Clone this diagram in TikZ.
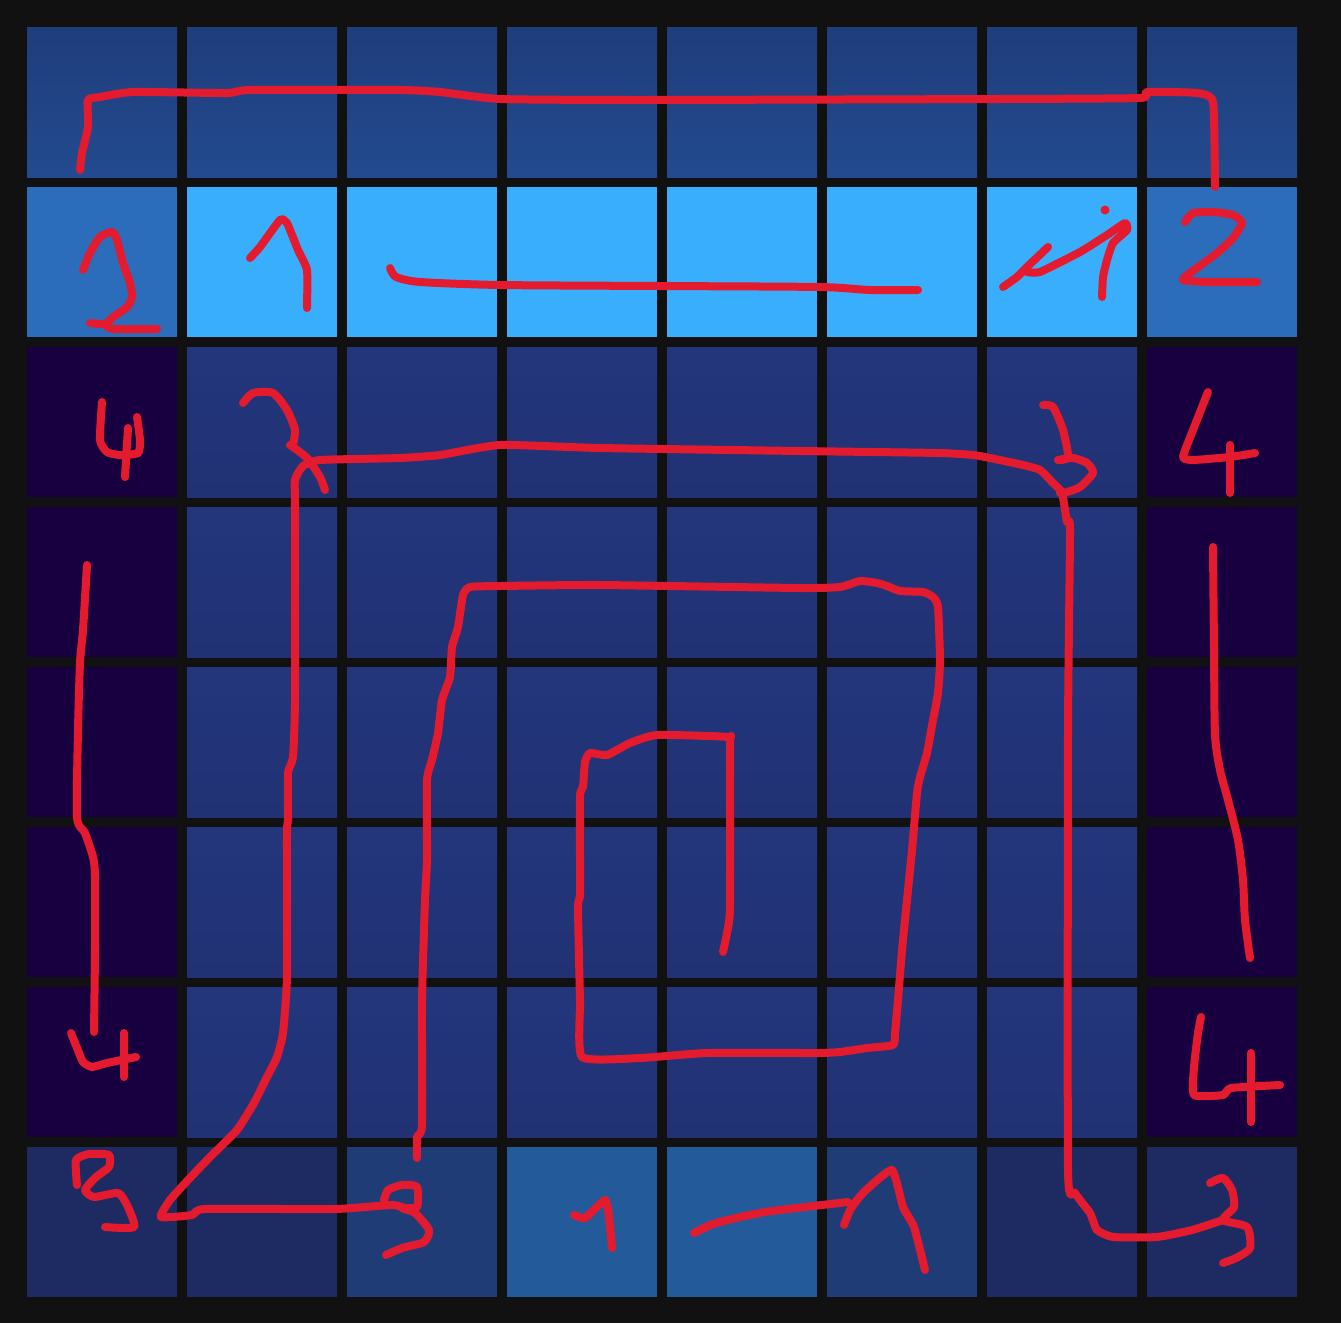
\documentclass[tikz,border=0pt]{standalone}
\usetikzlibrary{calc}
\definecolor{bg}{HTML}{111111}
\definecolor{rzt}{HTML}{1F3D7B}
\definecolor{rzb}{HTML}{234A8F}
\definecolor{ros}{HTML}{2B6DBB}
\definecolor{rom}{HTML}{38AEFD}
\definecolor{side}{HTML}{180040}
\definecolor{midt}{HTML}{23367C}
\definecolor{midb}{HTML}{213174}
\definecolor{rsa}{HTML}{1E2B63}
\definecolor{rsb}{HTML}{1F3C77}
\definecolor{rsc}{HTML}{235A9A}
\definecolor{ink}{HTML}{E41B2E}
\tikzset{
  cell/.style={minimum size=150pt, inner sep=0pt, outer sep=0pt, draw=none, anchor=north west},
  pen/.style={draw=ink, line width=8pt, line cap=round, line join=round},
}
\begin{document}
\begin{tikzpicture}[x=1pt,y=-1pt]
\fill[bg] (0,0) rectangle (1341,1323);
\useasboundingbox (0,0) rectangle (1341,1323);
% row 0
\foreach \c in {0,...,7}{
  \node[cell, top color=rzt, bottom color=rzb] (c-0-\c) at ({27+160*\c},27) {};
}
% row 1
\foreach \c/\col in {0/ros,1/rom,2/rom,3/rom,4/rom,5/rom,6/rom,7/ros}{
  \node[cell, fill=\col] (c-1-\c) at ({27+160*\c},187) {};
}
% rows 2-6
\foreach \r in {2,...,6}{
  \node[cell, fill=side] (c-\r-0) at (27,{27+160*\r}) {};
  \node[cell, fill=side] (c-\r-7) at (1147,{27+160*\r}) {};
  \foreach \c in {1,...,6}{
    \node[cell, top color=midt, bottom color=midb] (c-\r-\c) at ({27+160*\c},{27+160*\r}) {};
  }
}
% row 7
\foreach \c/\col in {0/rsa,1/rsa,2/rsb,3/rsc,4/rsc,5/rsb,6/rsa,7/rsa}{
  \node[cell, fill=\col] (c-7-\c) at ({27+160*\c},1147) {};
}
% ---- red strokes ----
% top bracket
\draw[pen] plot[smooth, tension=0.3] coordinates {(80,170) (82,153) (88,127) (88,100) (100,97) (133,92) (227,93) (250,90) (400,90) (440,92) (500,99) (640,100) (1000,99) (1140,98) (1147,92) (1197,93) (1213,102) (1215,187)};
% 2 left
\draw[pen] plot[smooth, tension=0.4] coordinates {(83,270) (90,253) (100,237) (112,232) (117,240) (123,263) (130,283) (132,297) (127,307) (113,317) (105,324) (90,323)};
\draw[pen] plot[smooth, tension=0.4] coordinates {(105,324) (113,329) (157,329)};
% 1 in col1
\draw[pen] plot[smooth, tension=0.3] coordinates {(250,258) (260,247) (280,220) (287,223) (298,250) (307,270) (307,308)};
% row 1 line
\draw[pen] plot[smooth, tension=0.4] coordinates {(390,268) (396,277) (420,282) (500,285) (660,286) (820,287) (870,290) (918,290)};
% arrow in col6
\draw[pen] plot[smooth, tension=0.3] coordinates {(1003,287) (1017,277) (1027,267) (1048,247)};
\draw[pen] plot[smooth, tension=0.3] coordinates {(1027,272) (1040,272) (1080,252) (1107,235) (1125,223) (1127,230) (1113,243) (1107,260) (1103,277) (1102,297)};
\fill[ink] (1105,210) circle (4.5);
% 2 right
\draw[pen] plot[smooth, tension=0.35] coordinates {(1185,222) (1193,213) (1213,212) (1233,215) (1242,223) (1233,238) (1217,253) (1190,273) (1183,280) (1207,282) (1257,282)};
% 4 col0 row2
\draw[pen] plot[smooth, tension=0.35] coordinates {(102,402) (100,440) (107,452) (120,455) (138,453) (140,440) (137,417)};
\draw[pen] (128,428) -- (125,477);
% 7 col1 row2
\draw[pen] plot[smooth, tension=0.4] coordinates {(243,403) (253,393) (273,393) (287,410) (295,430) (293,445)};
\draw[pen] plot[smooth, tension=0.4] coordinates {(290,445) (307,458) (320,477) (325,490)};
% 3 col6 row2
\draw[pen] plot[smooth, tension=0.4] coordinates {(1043,405) (1053,407) (1063,430) (1068,457) (1058,460)};
\draw[pen] plot[smooth, tension=0.4] coordinates {(1058,460) (1073,458) (1087,463) (1093,473) (1080,487) (1067,492) (1060,493)};
% 4 col7 row2
\draw[pen] plot[smooth, tension=0.3] coordinates {(1208,392) (1193,430) (1183,457) (1193,460) (1230,457) (1255,453)};
\draw[pen] (1230,445) -- (1230,493);
% big loop
\draw[pen] plot[smooth, tension=0.3] coordinates {(1223,1220) (1192,1230) (1157,1237) (1113,1237) (1097,1230) (1090,1213) (1075,1193) (1068,1170) (1068,730) (1070,530) (1067,522) (1062,493) (1053,483) (1040,470) (1023,465) (990,458) (973,455) (940,453) (800,451) (600,448) (500,445) (440,455) (400,458) (320,460) (303,466) (295,480) (295,510) (295,700) (293,757) (288,773) (288,820) (287,833) (287,977) (283,1033) (277,1057) (267,1077) (254,1103) (237,1130) (210,1157) (188,1180) (170,1200) (161,1217) (192,1215) (205,1209) (335,1209) (393,1205) (415,1212)};
% 3 bottom right
\draw[pen] plot[smooth, tension=0.4] coordinates {(1210,1183) (1223,1178) (1232,1190) (1234,1207) (1223,1220) (1247,1227) (1250,1248) (1236,1258) (1223,1263)};
% 3 col2 row7
\draw[pen] plot[smooth, tension=0.4] coordinates {(384,1200) (388,1190) (402,1185) (417,1187) (417,1207) (402,1208) (415,1213) (429,1230) (424,1242) (402,1248) (386,1255)};
% 3 col0 row7
\draw[pen] plot[smooth, tension=0.35] coordinates {(77,1185) (76,1160) (89,1154) (109,1155) (109,1167) (96,1177) (85,1190) (94,1197) (118,1193) (127,1205) (134,1227) (105,1227)};
% right vertical col7
\draw[pen] plot[smooth, tension=0.4] coordinates {(1213,547) (1214,650) (1215,735) (1220,770) (1228,800) (1238,840) (1243,880) (1245,920) (1250,958)};
% left vertical col0
\draw[pen] plot[smooth, tension=0.4] coordinates {(87,565) (83,630) (80,663) (78,730) (77,817) (85,833) (93,857) (95,877) (95,950) (94,1032)};
% 4 col0 row6
\draw[pen] plot[smooth, tension=0.3] coordinates {(71,1033) (77,1048) (83,1062) (92,1067) (107,1063) (136,1057)};
\draw[pen] (124,1033) -- (124,1077);
% 4 col7 row6
\draw[pen] plot[smooth, tension=0.3] coordinates {(1201,1017) (1198,1033) (1194,1067) (1194,1095) (1223,1095) (1231,1088) (1280,1085)};
\draw[pen] (1251,1053) -- (1251,1122);
% middle spiral
\draw[pen] plot[smooth, tension=0.3] coordinates {(417,1158) (417,1137) (422,1125) (422,1000) (425,900) (427,860) (427,780) (432,760) (438,733) (442,700) (450,677) (452,647) (458,627) (463,595) (470,587) (500,586) (600,585) (800,588) (840,587) (860,581) (877,583) (887,586) (900,591) (923,592) (933,597) (938,607) (940,660) (938,693) (933,720) (927,753) (920,777) (917,793) (912,850) (907,900) (902,950) (898,1000) (895,1033) (893,1045) (867,1048) (840,1052) (817,1053) (707,1053) (640,1058) (582,1057) (580,1000) (578,907) (580,893) (580,797) (583,787) (585,762) (590,753) (607,755) (630,743) (657,735) (728,737) (730,745) (730,907) (727,933) (723,952)};
% 1 col3 row7
\draw[pen] plot[smooth, tension=0.3] coordinates {(574,1215) (585,1218) (605,1200) (609,1217) (612,1248)};
% arrow 1 col4-5 row7
\draw[pen] plot[smooth, tension=0.4] coordinates {(694,1233) (716,1223) (765,1212) (848,1202)};
\draw[pen] plot[smooth, tension=0.3] coordinates {(844,1225) (850,1210) (857,1200) (866,1190) (892,1170) (903,1207) (914,1227) (925,1270)};
\end{tikzpicture}
\end{document}
